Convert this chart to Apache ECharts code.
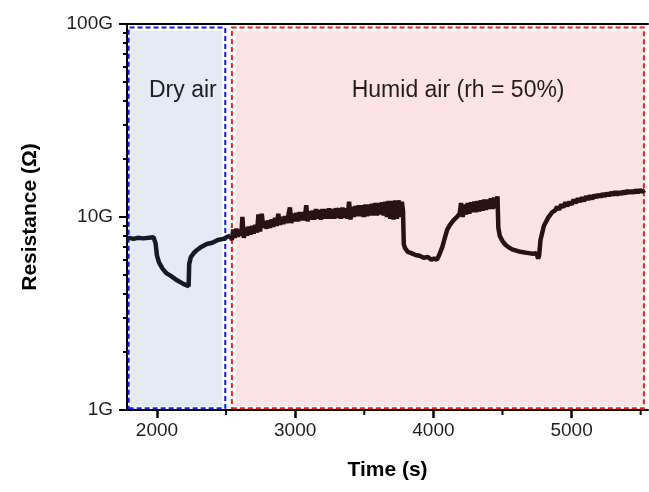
<!DOCTYPE html>
<html>
<head>
<meta charset="utf-8">
<script src="https://cdn.jsdelivr.net/npm/echarts@6/dist/echarts.min.js"></script>
<style>
  html, body { margin: 0; padding: 0; background: #fff; }
  #chart { width: 649px; height: 492px; }
</style>
</head>
<body>
<div id="chart"></div>
<script>
// time (s), resistance (G ohm)
let dryAir = [
  [1783, 7.7], [1800, 7.8], [1830, 7.7], [1860, 7.8], [1900, 7.75], [1940, 7.8], [1975, 7.85],
  [1990, 7.3], [2000, 6.3], [2015, 5.8], [2040, 5.4], [2070, 5.1], [2100, 4.95], [2145, 4.7],
  [2190, 4.5], [2229, 4.38], [2233, 5.7], [2245, 6.2], [2270, 6.55], [2290, 6.75], [2320, 7.0],
  [2360, 7.25], [2400, 7.35], [2440, 7.6], [2480, 7.7], [2510, 7.9], [2530, 8.0]
];
let humidAir = [
  [2530, 8.0], [2542, 7.6], [2552, 8.6], [2562, 7.8], [2574, 8.7], [2586, 7.9], [2598, 8.6],
  [2610, 8.0], [2618, 10.0], [2628, 7.8], [2640, 8.8], [2652, 8.0], [2664, 8.9], [2676, 8.1],
  [2688, 9.0], [2700, 8.2], [2712, 9.1], [2724, 8.3], [2734, 10.3], [2746, 8.4], [2758, 10.4],
  [2770, 8.8], [2782, 9.5], [2794, 8.7], [2806, 9.6], [2818, 8.8], [2830, 9.7], [2842, 8.9],
  [2854, 9.9], [2866, 9.0], [2878, 10.4], [2890, 9.1], [2902, 10.0], [2914, 9.2], [2926, 10.1],
  [2938, 9.3], [2950, 10.2], [2962, 11.2], [2972, 9.3], [2984, 10.4], [2996, 9.5], [3008, 10.5],
  [3020, 9.5], [3032, 10.6], [3044, 9.6], [3056, 10.6], [3068, 9.6], [3080, 11.5], [3090, 9.5],
  [3102, 10.7], [3114, 9.7], [3126, 10.8], [3138, 9.7], [3150, 11.0], [3162, 9.8], [3174, 10.9],
  [3186, 9.7], [3198, 11.0], [3210, 9.8], [3222, 11.0], [3234, 9.8], [3246, 11.1], [3258, 9.8],
  [3270, 11.0], [3282, 9.8], [3294, 11.1], [3306, 9.9], [3318, 11.1], [3330, 9.8], [3342, 11.2],
  [3354, 9.9], [3366, 11.1], [3378, 9.8], [3390, 12.0], [3400, 9.7], [3412, 11.3], [3424, 10.0],
  [3436, 11.4], [3448, 10.1], [3460, 11.5], [3472, 10.1], [3484, 11.5], [3496, 10.0], [3508, 11.6],
  [3520, 10.1], [3532, 11.6], [3544, 10.2], [3556, 11.7], [3568, 10.2], [3580, 11.8], [3592, 10.2],
  [3604, 11.8], [3616, 10.3], [3628, 11.9], [3640, 10.2], [3652, 12.0], [3664, 10.0], [3676, 12.1],
  [3688, 9.8], [3700, 12.1], [3712, 9.7], [3724, 12.2], [3736, 9.8], [3748, 12.2], [3760, 10.0],
  [3772, 12.0], [3780, 10.8],
  [3786, 7.2], [3795, 6.9], [3815, 6.6], [3840, 6.5], [3870, 6.35], [3900, 6.3], [3930, 6.15],
  [3960, 6.2], [3985, 6.0], [4005, 6.1], [4025, 6.0], [4040, 6.3], [4050, 6.2],
  [4065, 7.0], [4085, 7.9], [4100, 8.6], [4120, 9.1], [4145, 9.6], [4170, 10.0], [4190, 10.4],
  [4200, 11.8], [4212, 10.0], [4224, 11.6], [4236, 10.3], [4248, 11.8], [4260, 10.4], [4272, 11.9],
  [4284, 10.6], [4296, 12.0], [4308, 10.6], [4320, 12.1], [4332, 10.7], [4344, 12.2], [4356, 10.8],
  [4368, 12.3], [4380, 10.9], [4392, 12.3], [4404, 11.0], [4416, 12.5], [4428, 11.0], [4440, 12.6],
  [4452, 11.1], [4464, 12.8],
  [4470, 8.8], [4480, 8.0], [4500, 7.5], [4520, 7.2], [4540, 7.0], [4570, 6.8], [4600, 6.7],
  [4630, 6.6], [4660, 6.55], [4690, 6.5], [4720, 6.45], [4745, 6.5], [4758, 6.1], [4765, 6.3],
  [4775, 7.6], [4800, 9.0], [4830, 9.9], [4860, 10.6], [4880, 10.8], [4895, 11.3], [4910, 10.9],
  [4925, 11.6], [4940, 11.2], [4955, 11.9], [4970, 11.4], [4985, 12.0], [5000, 11.6], [5015, 12.3],
  [5030, 11.8], [5045, 12.5], [5060, 12.0], [5075, 12.6], [5090, 12.1], [5105, 12.8], [5120, 12.3],
  [5135, 12.9], [5150, 12.4], [5165, 13.0], [5180, 12.6], [5195, 13.1], [5210, 12.7], [5225, 13.2],
  [5240, 12.8], [5255, 13.3], [5270, 12.9], [5285, 13.4], [5300, 13.0], [5315, 13.5], [5330, 13.0],
  [5345, 13.5], [5360, 13.1], [5375, 13.6], [5390, 13.2], [5405, 13.7], [5420, 13.3], [5435, 13.7],
  [5450, 13.3], [5465, 13.8], [5480, 13.4], [5495, 13.8], [5510, 13.5], [5530, 13.8]
];

let xRange = [1783, 5553];
let yRange = [1, 100];
let xMajorTicks = [2000, 3000, 4000, 5000];
let xMinorTicks = [2500, 3500, 4500, 5500];
let yMinorTicks = [2, 3, 4, 5, 6, 7, 8, 9, 20, 30, 40, 50, 60, 70, 80, 90];

// shaded windows: [t0, t1, r0, r1]
let dryBox = [1795, 2494, 1.02, 95.8];
let dryFill = [1807, 2470, 1.05, 92.4];
let humidBox = [2542, 5523, 1.02, 95.8];
let humidFill = [2566, 5514, 1.05, 92.4];
let labelDry = ['Dry air', 2187, 45];
let labelHumid = ['Humid air (rh = 50%)', 4179, 45];

let font = 'Liberation Sans, Arial, Helvetica, sans-serif';
let chart = echarts.init(document.getElementById('chart'));

function area(b) {
  return [[{ coord: [b[0], b[2]] }, { coord: [b[1], b[3]] }]];
}
function dashBox(b, color) {
  return {
    type: 'line', data: [], silent: true, z: 1,
    markArea: {
      silent: true,
      itemStyle: { color: 'transparent', borderColor: color, borderWidth: 2, borderType: [5, 3] },
      data: area(b)
    }
  };
}
function fillBox(b, color, label) {
  return {
    type: 'line', data: [], silent: true, z: 0,
    markArea: { silent: true, itemStyle: { color: color }, data: area(b) },
    markPoint: {
      silent: true, symbol: 'circle', symbolSize: 1,
      itemStyle: { color: 'transparent' },
      label: { show: true, position: 'inside', color: '#1e1e1e', fontSize: 23, fontFamily: font, formatter: label[0] },
      data: [{ coord: [label[1], label[2]] }]
    }
  };
}

let option = {
  animation: false,
  backgroundColor: '#fff',
  grid: { left: 127, right: 1, top: 24, bottom: 82 },
  xAxis: [
    {
      type: 'value', min: xRange[0], max: xRange[1], position: 'bottom',
      name: 'Time (s)', nameLocation: 'middle', nameGap: 50,
      nameTextStyle: { fontSize: 21, fontWeight: 'bold', color: '#000', fontFamily: font },
      axisLine: { show: true, lineStyle: { color: '#000', width: 2 } },
      axisTick: { show: true, customValues: xMajorTicks, length: 8, lineStyle: { color: '#000000', width: 2.5 } },
      axisLabel: {
        customValues: xMajorTicks, fontSize: 19, color: '#1e1e1e', fontFamily: font, margin: 11,
        formatter: v => String(v)
      },
      splitLine: { show: false }
    },
    {
      type: 'value', min: xRange[0], max: xRange[1], position: 'top',
      axisLine: { show: true, lineStyle: { color: '#000', width: 2 } },
      axisTick: { show: false }, axisLabel: { show: false }, splitLine: { show: false }
    }
  ],
  yAxis: [
    {
      type: 'log', logBase: 10, min: yRange[0], max: yRange[1], position: 'left',
      name: 'Resistance (Ω)', nameLocation: 'middle', nameGap: 86,
      nameTextStyle: { fontSize: 21, fontWeight: 'bold', color: '#000', fontFamily: font },
      axisLine: { show: true, lineStyle: { color: '#000', width: 2 } },
      axisTick: { show: true, length: 8, lineStyle: { color: '#000', width: 2 } },
      axisLabel: { fontSize: 19, color: '#1e1e1e', fontFamily: font, margin: 14, formatter: v => v + 'G' },
      splitLine: { show: false }
    },
    {
      type: 'log', logBase: 10, min: yRange[0], max: yRange[1], position: 'left',
      axisLine: { show: false },
      axisTick: { show: true, customValues: yMinorTicks, length: 4, lineStyle: { color: '#000', width: 2 } },
      axisLabel: { show: false }, splitLine: { show: false }
    }
  ],
  series: [
    fillBox(dryFill, '#e4eaf6', labelDry),
    fillBox(humidFill, '#fde3e3', labelHumid),
    dashBox(dryBox, '#1515ff'),
    dashBox(humidBox, '#ff1515'),
    {
      name: 'dry', type: 'line', data: dryAir, showSymbol: false, z: 5,
      lineStyle: { color: '#151a28', width: 4.5 }
    },
    {
      name: 'humid', type: 'line', data: humidAir, showSymbol: false, z: 5,
      lineStyle: { color: '#2a1212', width: 4.5 }
    }
  ]
};
chart.setOption(option);

// short ticks at the half-thousands, placed through the grid's scales
let minorTicks = xMinorTicks.map(v => {
  let p = chart.convertToPixel({ gridIndex: 0 }, [v, yRange[0]]);
  return {
    type: 'line', silent: true, z: 10,
    shape: { x1: p[0], y1: p[1], x2: p[0], y2: p[1] + 5 },
    style: { stroke: '#000', lineWidth: 2 }
  };
});
chart.setOption({ graphic: minorTicks });
</script>
</body>
</html>
